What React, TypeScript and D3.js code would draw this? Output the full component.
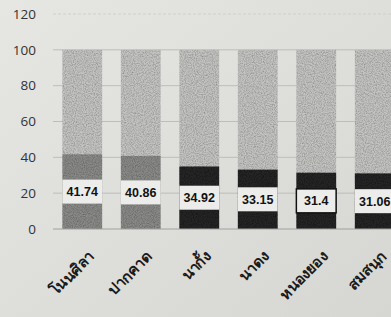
import React, { useEffect, useRef } from 'react';
import * as d3 from 'd3';

// subdistricts and their share (%) — remainder up to 100 is the upper segment
const categories = ['โนนศิลา', 'ปากคาด', 'นากั้ง', 'นาดง', 'หนองยอง', 'สมสนุก'];
const values = [41.74, 40.86, 34.92, 33.15, 31.4, 31.06];
const yTicks = [0, 20, 40, 60, 80, 100, 120];

const W = 391;
const H = 317;

const App = () => {
  const svgRef = useRef<SVGSVGElement>(null);

  useEffect(() => {
    document.body.style.margin = '0';
    const svg = d3.select(svgRef.current);
    svg.selectAll('*').remove();

    const defs = svg.append('defs');

    // paper-ish background gradient (photo of a printout)
    const bg = defs.append('linearGradient').attr('id', 'bg')
      .attr('x1', '0').attr('y1', '0').attr('x2', '1').attr('y2', '1');
    bg.append('stop').attr('offset', '0%').attr('stop-color', '#e6e6e3');
    bg.append('stop').attr('offset', '100%').attr('stop-color', '#d6d6d3');

    // speckle filter for the printed texture
    const f = defs.append('filter').attr('id', 'speckle')
      .attr('x', 0).attr('y', 0).attr('width', 1).attr('height', 1);
    f.append('feTurbulence').attr('type', 'fractalNoise')
      .attr('baseFrequency', 0.9).attr('numOctaves', 2).attr('seed', 3).attr('result', 'noise');
    f.append('feColorMatrix').attr('in', 'noise').attr('type', 'matrix')
      .attr('values', '0 0 0 0 0  0 0 0 0 0  0 0 0 0 0  0 0 0 0.9 -0.3').attr('result', 'dots');
    f.append('feComposite').attr('in', 'dots').attr('in2', 'SourceGraphic').attr('operator', 'in').attr('result', 'd2');
    f.append('feMerge').call(m => {
      m.append('feMergeNode').attr('in', 'SourceGraphic');
      m.append('feMergeNode').attr('in', 'd2');
    });

    svg.append('rect').attr('width', W).attr('height', H).attr('fill', 'url(#bg)');

    const x = d3.scaleBand()
      .domain(categories)
      .range([53, 404])
      .paddingInner(0.32)
      .paddingOuter(0.16);

    const y = d3.scaleLinear().domain([0, 120]).range([229, 14]);

    // gridlines
    svg.append('g')
      .selectAll('line')
      .data(yTicks.filter(t => t > 0))
      .enter().append('line')
      .attr('x1', 53).attr('x2', W)
      .attr('y1', d => y(d)).attr('y2', d => y(d))
      .attr('stroke', d => (d === 120 ? '#cfcfcf' : '#bdbdbd'))
      .attr('stroke-width', 1)
      .attr('stroke-dasharray', d => (d === 120 ? '3,2' : null));

    // y axis labels
    const yAxis = svg.append('g')
      .attr('transform', 'translate(38,0)')
      .call(d3.axisLeft(y).tickValues(yTicks).tickSize(0).tickPadding(2));
    yAxis.select('.domain').remove();
    yAxis.selectAll('text')
      .attr('font-family', 'Open Sans, Liberation Sans, sans-serif')
      .attr('font-size', 13.5)
      .attr('fill', '#333');

    const bw = x.bandwidth();

    // upper (remainder) segment
    svg.append('g').selectAll('rect')
      .data(categories)
      .enter().append('rect')
      .attr('x', d => x(d)!)
      .attr('width', bw)
      .attr('y', y(100))
      .attr('height', (d, i) => y(values[i]) - y(100))
      .attr('fill', '#c4c4c2')
      .attr('filter', 'url(#speckle)');

    // lower segment
    svg.append('g').selectAll('rect')
      .data(categories)
      .enter().append('rect')
      .attr('x', d => x(d)!)
      .attr('width', bw)
      .attr('y', (d, i) => y(values[i]))
      .attr('height', (d, i) => y(0) - y(values[i]))
      .attr('fill', (d, i) => (i < 2 ? '#8a8a88' : '#262626'))
      .attr('filter', 'url(#speckle)');

    // baseline
    svg.append('line')
      .attr('x1', 53).attr('x2', W)
      .attr('y1', y(0)).attr('y2', y(0))
      .attr('stroke', '#a0a0a0');

    // value labels on white boxes
    const lab = svg.append('g').selectAll('g')
      .data(categories)
      .enter().append('g')
      .attr('transform', (d, i) => `translate(${x(d)! + bw / 2},${y(values[i] / 2)})`);
    lab.append('rect')
      .attr('x', -bw / 2).attr('y', -12)
      .attr('width', bw).attr('height', 24)
      .attr('fill', '#ececea')
      .attr('stroke', (d, i) => (values[i] === 31.4 ? '#111' : 'none'))
      .attr('stroke-width', 1.5);
    lab.append('text')
      .attr('text-anchor', 'middle')
      .attr('dy', '0.36em')
      .attr('font-family', 'Liberation Sans, Arial, sans-serif')
      .attr('font-weight', 'bold')
      .attr('font-size', 12.5)
      .attr('fill', '#111')
      .text((d, i) => String(values[i]));

    // rotated category labels
    svg.append('g').selectAll('text')
      .data(categories)
      .enter().append('text')
      .attr('transform', d => `translate(${x(d)! + bw / 2 + 5},250) rotate(-45)`)
      .attr('text-anchor', 'end')
      .attr('dy', '0.7em')
      .attr('font-family', 'Noto Sans, Tahoma, sans-serif')
      .attr('font-weight', 'bold')
      .attr('font-size', 15)
      .attr('fill', '#1a1a1a')
      .text(d => d);
  }, []);

  return (
    <svg ref={svgRef} width={W} height={H} style={{ display: 'block', position: 'absolute', left: 0, top: 0 }} />
  );
};

export default App;
